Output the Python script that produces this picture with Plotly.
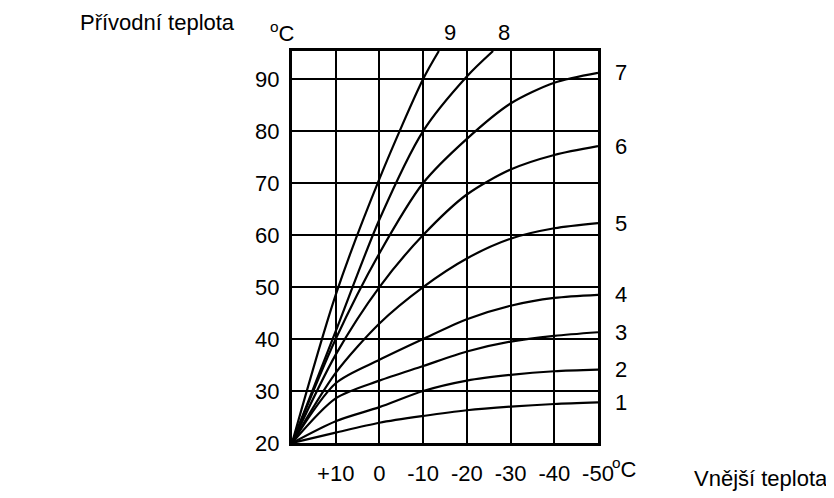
import plotly.graph_objects as go

# Outdoor temperature (°C) at each grid column
outdoor = [20, 10, 0, -10, -20, -30, -40, -50]

# Supply temperature curves (°C)
curve1 = [20, 22.0, 23.9, 25.2, 26.3, 27.0, 27.5, 27.8]
curve2 = [20, 24.2, 26.9, 30.0, 32.0, 33.1, 33.8, 34.1]
curve3 = [20, 28.6, 32.0, 34.8, 37.6, 39.5, 40.6, 41.3]
curve4 = [20, 31.5, 36.0, 40.0, 43.8, 46.4, 47.9, 48.5]
curve5 = [20, 33.5, 43.0, 50.0, 55.5, 59.3, 61.3, 62.3]
curve6 = [20, 37.0, 50.0, 60.0, 67.8, 72.6, 75.4, 77.1]
curve7 = [20, 40.0, 56.5, 70.0, 78.5, 85.3, 89.3, 91.2]
# steep curves leave the chart at the top
curve8_x = [20, 10, 0, -10, -20, -26]
curve8 = [20, 41.5, 63.0, 80.0, 90.5, 95.4]
curve9_x = [20, 10, 0, -10, -13.6]
curve9 = [20, 48.5, 70.8, 90.0, 95.4]

curves = [
    ("1", outdoor, curve1), ("2", outdoor, curve2), ("3", outdoor, curve3),
    ("4", outdoor, curve4), ("5", outdoor, curve5), ("6", outdoor, curve6),
    ("7", outdoor, curve7), ("8", curve8_x, curve8), ("9", curve9_x, curve9),
]

x_tickvals = [10, 0, -10, -20, -30, -40, -50]
x_ticktext = ["+10", "0", "-10", "-20", "-30", "-40", "-50"]
y_tickvals = [20, 30, 40, 50, 60, 70, 80, 90]

Y_TOP = 95.4
FONT = "Arial, Liberation Sans, sans-serif"
FS = 22
tf = dict(size=FS, color="black", family=FONT)

fig = go.Figure()
for name, xs, ys in curves:
    fig.add_trace(go.Scatter(
        x=xs, y=ys, mode="lines", name=name,
        line=dict(color="black", width=2.2, shape="spline", smoothing=0.8),
        showlegend=False, hoverinfo="skip",
    ))

# right-hand curve labels (1-7) at curve ends
for name, xs, ys in curves[:7]:
    fig.add_annotation(x=xs[-1], y=ys[-1], text=name, showarrow=False,
                       xref="x", yref="y", xanchor="center", yanchor="middle",
                       xshift=23, font=tf)
# top labels (8, 9) where the curves leave the chart
for name, xs, ys in curves[7:]:
    fig.add_annotation(x=xs[-1], y=1, text=name, showarrow=False,
                       xref="x", yref="paper", xanchor="center", yanchor="middle",
                       xshift=11, yshift=19, font=tf)

# unit labels
fig.add_annotation(x=-50, y=0, xref="x", yref="paper", text="<sup>o</sup>C",
                   showarrow=False, xanchor="left", yanchor="middle", borderpad=0,
                   xshift=13, yshift=-25, font=tf)
fig.add_annotation(x=20, y=1, xref="x", yref="paper", text="<sup>o</sup>C",
                   showarrow=False, xanchor="right", yanchor="middle",
                   xshift=5, yshift=19, font=tf)

# axis titles (paper coords relative to plot area 306x401)
fig.add_annotation(x=-0.441, y=1.072, xref="paper", yref="paper",
                   text="Přívodní teplota", showarrow=False, xanchor="center",
                   yanchor="middle", font=tf)
fig.add_annotation(x=1.758, y=-0.09, xref="paper", yref="paper",
                   text="Vnější teplota", showarrow=False, xanchor="right",
                   yanchor="middle", font=tf)

fig.update_xaxes(range=[20, -50], tickvals=x_tickvals, ticktext=x_ticktext,
                 showgrid=True, gridcolor="black", gridwidth=2,
                 showline=True, linecolor="black", linewidth=3, mirror=True,
                 ticks="", zeroline=False, tickfont=tf, ticklabelstandoff=9)
fig.update_yaxes(range=[20, Y_TOP], tickvals=y_tickvals,
                 showgrid=True, gridcolor="black", gridwidth=2,
                 showline=True, linecolor="black", linewidth=3, mirror=True,
                 ticks="", zeroline=False, tickfont=tf, ticklabelstandoff=5)

# page body has an 8px margin, so the figure is 8px smaller and shifted
fig.update_layout(
    width=826, height=490,
    margin=dict(l=284, r=236, t=43, b=46),
    paper_bgcolor="white", plot_bgcolor="white",
    font=dict(family=FONT, color="black", size=FS),
)
fig.write_html("out.html")
